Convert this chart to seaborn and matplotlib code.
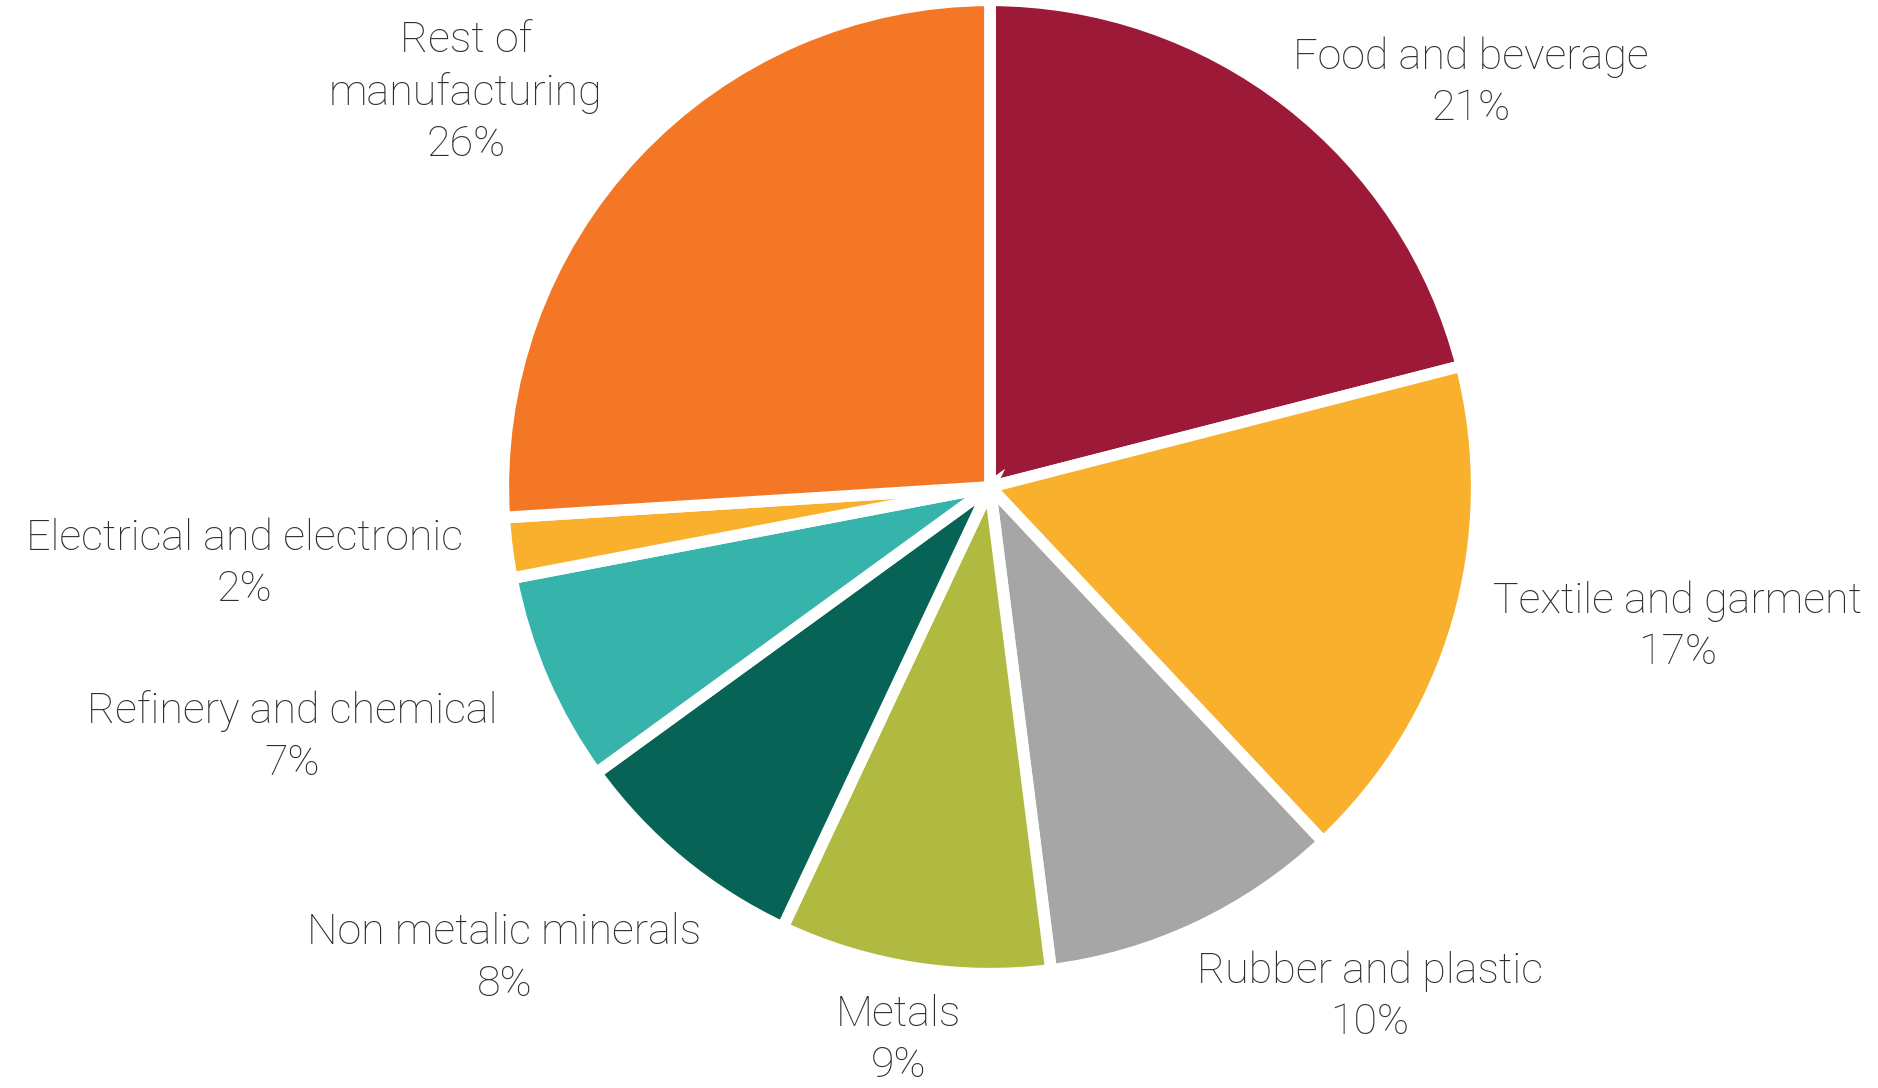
import matplotlib
matplotlib.use("Agg")
import matplotlib.pyplot as plt
import seaborn as sns

# data
sectors = ["Food and beverage", "Textile and garment", "Rubber and plastic", "Metals",
           "Non metalic minerals", "Refinery and chemical", "Electrical and electronic",
           "Rest of\nmanufacturing"]
shares = [21, 17, 10, 9, 8, 7, 2, 26]
colors = ["#9c1a38", "#f9b02c", "#a6a6a6", "#b0ba41", "#066356", "#36b3aa", "#f9b02c", "#f37725"]

# label placement (in pie-radius units)
label_pos = [(1.00, 0.84), (1.43, -0.29), (0.79, -1.06), (-0.19, -1.15),
             (-1.01, -0.98), (-1.45, -0.52), (-1.55, -0.16), (-1.09, 0.82)]

sns.set_theme(style="white")
plt.rcParams['font.family'] = ['Roboto', 'DejaVu Sans']

fig = plt.figure(figsize=(18.78, 10.88), dpi=100)
ax = fig.add_axes([0, 0, 1, 1])

ax.pie(shares, colors=sns.color_palette(colors), startangle=90, counterclock=False,
       radius=1.012, wedgeprops=dict(edgecolor="white", linewidth=8.5))

for name, val, (x, y) in zip(sectors, shares, label_pos):
    ax.text(x, y, f"{name}\n{val}%", ha="center", va="center", fontsize=31,
            fontweight="light", color="#2e2e2e", linespacing=1.32)

ax.set_aspect("auto")
ax.set_xlim(-990 / 481, (1878 - 990) / 481)
ax.set_ylim(-(1088 - 487) / 481, 487 / 481)
ax.axis("off")

fig.savefig("out.png", dpi=100, facecolor="white")
plt.close()
